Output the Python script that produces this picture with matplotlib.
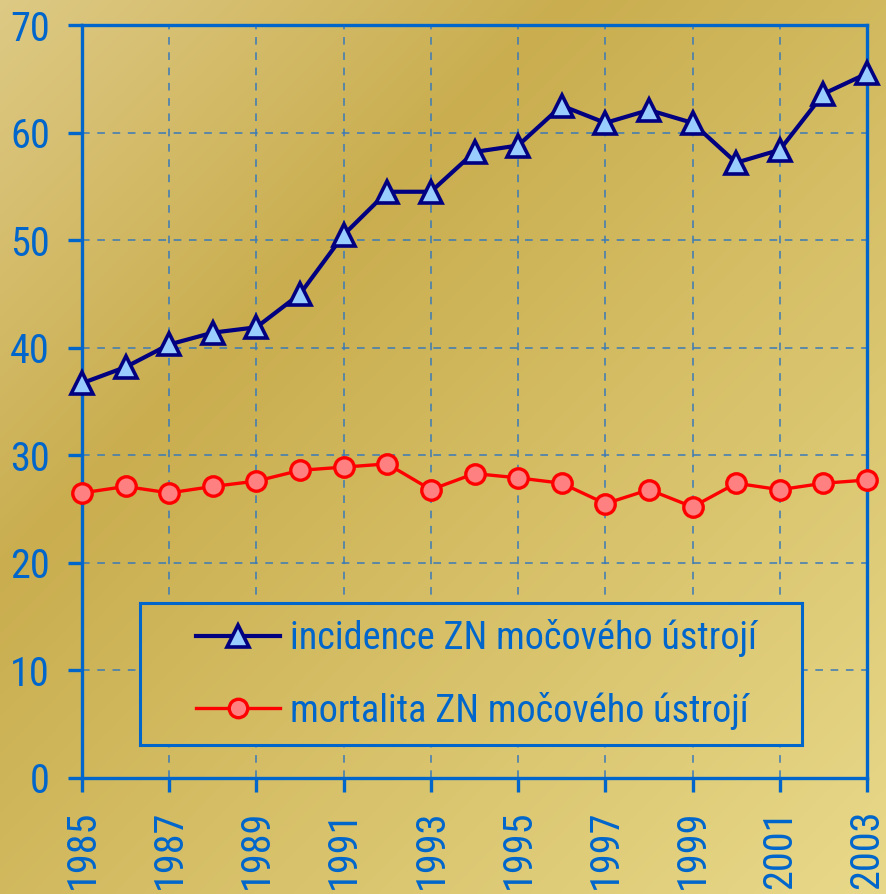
import numpy as np
import matplotlib
matplotlib.use("Agg")
import matplotlib.pyplot as plt
from matplotlib import font_manager

# narrow Arial-like face if present, otherwise plain Liberation Sans
names = {f.name for f in font_manager.fontManager.ttflist}
narrow = None
for n in ['Liberation Sans Narrow', 'Arial Narrow', 'DejaVu Sans Condensed', 'Roboto Condensed']:
    if n in names:
        narrow = n
        break
if narrow:
    plt.rcParams['font.family'] = [narrow, 'DejaVu Sans']
    tick_size, leg_size = 29, 27.5
else:
    plt.rcParams['font.family'] = ['Liberation Sans', 'DejaVu Sans']
    tick_size, leg_size = 25, 22

years = list(range(1985, 2004))
incidence = [36.7, 38.2, 40.3, 41.4, 41.9, 45.0, 50.5, 54.5, 54.5, 58.2,
             58.8, 62.5, 60.9, 62.1, 60.9, 57.2, 58.4, 63.6, 65.5]
mortalita = [26.5, 27.1, 26.5, 27.1, 27.6, 28.6, 28.9, 29.2, 26.8, 28.3,
             27.9, 27.4, 25.5, 26.8, 25.2, 27.4, 26.8, 27.4, 27.7]
labels = ["incidence ZN močového ústrojí", "mortalita ZN močového ústrojí"]

blue = "#0066cc"


def gradient(x0, x1, t0, t1, n=300):
    # golden diagonal gradient; x and t (from top) in figure fractions
    gx, gy = np.meshgrid(np.linspace(x0, x1, n), np.linspace(t0, t1, n))
    d = (gx + gy) / 2
    k = 0.32
    c_light1 = np.array([0.87, 0.79, 0.52])
    c_dark = np.array([0.79, 0.68, 0.31])
    c_light2 = np.array([0.91, 0.85, 0.54])
    w = np.clip(d / k, 0, 1)[..., None]
    w2 = np.clip((d - k) / (1 - k), 0, 1)[..., None]
    return np.where(d[..., None] < k,
                    c_light1 * (1 - w) + c_dark * w,
                    c_dark * (1 - w2) + c_light2 * w2)


fig = plt.figure(figsize=(8.87, 8.94), dpi=100)

bg = fig.add_axes([0, 0, 1, 1], zorder=-10)
bg.imshow(gradient(0, 1, 0, 1), aspect='auto', extent=[0, 1, 0, 1])
bg.axis('off')

ax = fig.add_axes([0.0924, 0.1298, 0.8851, 0.8422])
ax.patch.set_alpha(0)

l1, = ax.plot(years, incidence, color="#000080", lw=3, marker='^', ms=16,
              mfc="#99ccff", mec="#000080", mew=2.6, zorder=5, clip_on=False)
l2, = ax.plot(years, mortalita, color="#ff0000", lw=2.4, marker='o', ms=14,
              mfc="#ff8080", mec="#ff0000", mew=2.4, zorder=5, clip_on=False)

ax.set_xlim(1985, 2003)
ax.set_ylim(0, 70)
ax.set_xticks(range(1985, 2004, 2))
ax.set_yticks(range(0, 71, 10))
ax.grid(True, color="#3a7ab8", ls=(0, (5, 5)), lw=1.1)
ax.set_axisbelow(True)

for s in ax.spines.values():
    s.set_color(blue)
    s.set_linewidth(2.4)

ax.tick_params(axis='both', colors=blue, labelsize=tick_size, length=10,
               width=2.4, pad=13, direction='out')
ax.tick_params(axis='x', labelrotation=90)

# opaque legend box that hides the grid behind it
W, H = 887, 894
bl, br, bt, bb = 140, 802, 603, 745
lax = fig.add_axes([bl / W, 1 - bb / H, (br - bl) / W, (bb - bt) / H], zorder=2)
lax.imshow(gradient(bl / W, br / W, bt / H, bb / H, 100), aspect='auto',
           extent=[0, 1, 0, 1])
lax.set_xticks([])
lax.set_yticks([])
for s in lax.spines.values():
    s.set_color(blue)
    s.set_linewidth(2.2)

leg = lax.legend([l1, l2], labels, loc='upper left', bbox_to_anchor=(0.085, 0.885),
                 fontsize=leg_size, frameon=False, handlelength=2.2, borderpad=0,
                 labelspacing=0.9, handletextpad=0.25, borderaxespad=0,
                 markerscale=0.95)
for t in leg.get_texts():
    t.set_color(blue)

fig.savefig("out.png", dpi=100)
